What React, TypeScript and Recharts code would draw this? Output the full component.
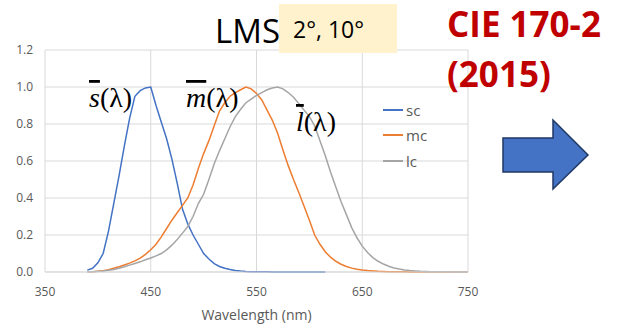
import React from 'react';
import { LineChart, Line, XAxis, YAxis, CartesianGrid } from 'recharts';

const wavelengths = [
  390, 395, 400, 405, 410, 415, 420, 425, 430, 435, 440, 445, 450, 455, 460, 465, 470, 475, 480, 485,
  490, 495, 500, 505, 510, 515, 520, 525, 530, 535, 540, 545, 550, 555, 560, 565, 570, 575, 580, 585,
  590, 595, 600, 605, 610, 615, 620, 625, 630, 635, 640, 645, 650, 655, 660, 665, 670, 675, 680, 685,
  690, 695, 700, 705, 710, 715, 720, 725, 730, 735, 740, 745, 750,
];

// s-cone stops at 615 nm
const sc = [
  0.01, 0.02, 0.05, 0.1, 0.22, 0.37, 0.52, 0.68, 0.83, 0.95, 0.98, 0.995, 1.0, 0.9, 0.81, 0.72, 0.61, 0.48, 0.34, 0.26,
  0.2, 0.15, 0.1, 0.07, 0.045, 0.03, 0.02, 0.013, 0.008, 0.005, 0.003, 0.002, 0.0015, 0.001, 0.0008, 0.0006, 0.0004, 0.0003, 0.0002, 0.0002,
  0.0001, 0.0001, 0.0001, 0.0001, 0, 0,
];

const mc = [
  0.001, 0.002, 0.004, 0.007, 0.012, 0.02, 0.028, 0.038, 0.048, 0.06, 0.075, 0.095, 0.12, 0.15, 0.19, 0.235, 0.28, 0.32, 0.36, 0.4,
  0.47, 0.56, 0.64, 0.71, 0.79, 0.87, 0.915, 0.95, 0.97, 0.985, 1.0, 0.99, 0.965, 0.93, 0.875, 0.82, 0.75, 0.66, 0.575, 0.5,
  0.43, 0.355, 0.28, 0.2, 0.15, 0.11, 0.08, 0.058, 0.042, 0.03, 0.021, 0.015, 0.011, 0.008, 0.006, 0.004, 0.003, 0.002, 0.0015, 0.001,
  0.0008, 0.0006, 0.0004, 0.0002, 0.0001, 0.0001, 0, 0, 0, 0, 0, 0, 0,
];

const lc = [
  0.001, 0.002, 0.004, 0.006, 0.009, 0.014, 0.02, 0.028, 0.037, 0.046, 0.055, 0.066, 0.076, 0.087, 0.1, 0.12, 0.145, 0.175, 0.21, 0.245,
  0.3, 0.37, 0.42, 0.5, 0.585, 0.655, 0.72, 0.785, 0.84, 0.88, 0.915, 0.935, 0.955, 0.97, 0.985, 0.995, 1.0, 0.99, 0.97, 0.945,
  0.91, 0.875, 0.84, 0.79, 0.71, 0.63, 0.54, 0.46, 0.38, 0.31, 0.24, 0.185, 0.14, 0.105, 0.078, 0.058, 0.043, 0.031, 0.022, 0.016,
  0.011, 0.008, 0.006, 0.004, 0.003, 0.002, 0.0015, 0.001, 0.0007, 0.0005, 0.0004, 0.0003, 0.0002,
];

const xTicks = [350, 450, 550, 650, 750];
const yTicks = [0, 0.2, 0.4, 0.6, 0.8, 1.0, 1.2];

const series = [
  { key: 'sc', color: '#4472c4' },
  { key: 'mc', color: '#ed7d31' },
  { key: 'lc', color: '#a5a5a5' },
];

const data = wavelengths.map((nm, i) => ({
  nm,
  sc: i < sc.length ? sc[i] : null,
  mc: mc[i],
  lc: lc[i],
}));

const tickStyle = { fill: '#595959', fontSize: 12, fontFamily: '"Open Sans", sans-serif' };

function SeriesLegend() {
  return (
    <div
      style={{
        position: 'absolute',
        left: 383,
        top: 97,
        fontFamily: '"Open Sans", sans-serif',
        fontSize: 15,
        color: '#595959',
      }}
    >
      {series.map((s) => (
        <div key={s.key} style={{ display: 'flex', alignItems: 'center', height: 25.5 }}>
          <span style={{ display: 'inline-block', width: 20, height: 2, background: s.color, marginRight: 3 }} />
          <span>{s.key}</span>
        </div>
      ))}
    </div>
  );
}

const serif = '"Liberation Serif", "Times New Roman", serif';

export default function App() {
  return (
    <div style={{ position: 'absolute', left: 0, top: 0, width: 619, height: 325, background: '#fff' }}>
      <LineChart width={619} height={325} data={data} margin={{ top: 50, right: 151, bottom: 0, left: 0 }}>
        <CartesianGrid stroke='#d9d9d9' />
        <XAxis
          dataKey='nm'
          type='number'
          domain={[350, 750]}
          ticks={xTicks}
          height={53}
          tick={tickStyle}
          tickLine={false}
          tickMargin={9}
          axisLine={{ stroke: '#d9d9d9' }}
          label={{
            value: 'Wavelength (nm)',
            position: 'insideBottom',
            offset: 5,
            style: { fill: '#595959', fontSize: 14, fontFamily: '"Open Sans", sans-serif' },
          }}
        />
        <YAxis
          type='number'
          domain={[0, 1.2]}
          ticks={yTicks}
          width={45}
          tick={tickStyle}
          tickLine={false}
          axisLine={false}
          tickMargin={6}
          tickFormatter={(v: number) => v.toFixed(1)}
        />
        {series.map((s) => (
          <Line
            key={s.key}
            dataKey={s.key}
            stroke={s.color}
            strokeWidth={1.5}
            dot={false}
            isAnimationActive={false}
            connectNulls={false}
          />
        ))}
      </LineChart>
      <SeriesLegend />
      <svg
        width={619}
        height={325}
        style={{ position: 'absolute', left: 0, top: 0, pointerEvents: 'none' }}
      >
        <rect x={279} y={4} width={118} height={49} fill='#fff2cc' />
        <text x={215} y={43} fontSize={33} fontFamily='"Open Sans", sans-serif' fill='#000'>LMS</text>
        <text x={293} y={38} fontSize={23} fontFamily='"Open Sans", sans-serif' fill='#000'>2°, 10°</text>
        <text x={447} y={37} fontSize={35} fontWeight='bold' fontFamily='"Open Sans", sans-serif' fill='#c00000'>CIE 170-2</text>
        <text x={447} y={87} fontSize={35} fontWeight='bold' fontFamily='"Open Sans", sans-serif' fill='#c00000'>(2015)</text>
        <polygon
          points='503,138 553,138 553,120 588,155 553,189 553,172 503,172'
          fill='#4472c4'
          stroke='#1f3864'
          strokeWidth={1.5}
        />
        <text x={89} y={107} fontSize={28} fontFamily={serif} fill='#000'>
          <tspan fontStyle='italic' style={{ textDecoration: 'overline' }}>s</tspan>(λ)
        </text>
        <text x={186} y={107} fontSize={28} fontFamily={serif} fill='#000'>
          <tspan fontStyle='italic' style={{ textDecoration: 'overline' }}>m</tspan>(λ)
        </text>
        <text x={296} y={131} fontSize={28} fontFamily={serif} fill='#000'>
          <tspan fontStyle='italic' style={{ textDecoration: 'overline' }}>l</tspan>(λ)
        </text>
      </svg>
    </div>
  );
}
